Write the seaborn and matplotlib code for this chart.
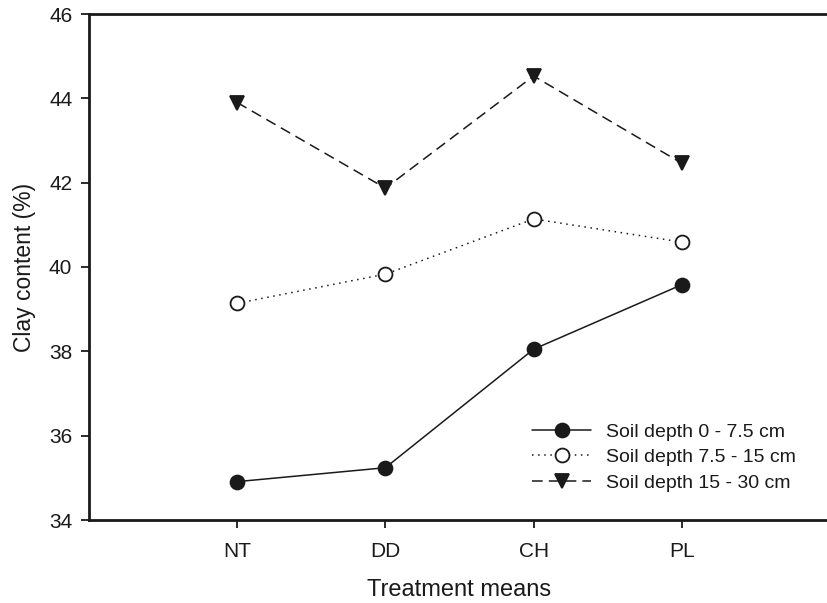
import pandas as pd
import seaborn as sns
import matplotlib.pyplot as plt

# values
treatments = ["NT", "DD", "CH", "PL"]
depth_0_75 = [34.91, 35.24, 38.05, 39.58]
depth_75_15 = [39.14, 39.83, 41.14, 40.59]
depth_15_30 = [43.90, 41.87, 44.53, 42.46]
labels = ["Soil depth 0 - 7.5 cm", "Soil depth 7.5 - 15 cm", "Soil depth 15 - 30 cm"]

sns.set_style("ticks")
plt.rcParams['font.family'] = ['Liberation Sans', 'DejaVu Sans']

ink = "#1a1a1a"
fig = plt.figure(figsize=(8.27, 6.03), dpi=100)
ax = fig.add_axes([89/827, 83/603, 741/827, 506/603])

styles = [
    dict(linestyle="-", marker="o", markerfacecolor=ink),
    dict(linestyle=(0, (1, 3)), marker="o", markerfacecolor="white"),
    dict(linestyle=(0, (7, 4)), marker="v", markerfacecolor=ink),
]
for vals, lab, st in zip([depth_0_75, depth_75_15, depth_15_30], labels, styles):
    df = pd.DataFrame({"Treatment": treatments, "Clay": vals})
    sns.lineplot(data=df, x="Treatment", y="Clay", ax=ax, color=ink, lw=1.1,
                 markersize=10, markeredgecolor=ink, markeredgewidth=1.3,
                 label=lab, sort=False, **st)

ax.set_xlim(-1, 4)
ax.set_ylim(34, 46)
ax.set_yticks([34, 36, 38, 40, 42, 44, 46])
ax.set_xlabel("Treatment means", fontsize=17, labelpad=13, color=ink)
ax.set_ylabel("Clay content (%)", fontsize=16.5, labelpad=9, color=ink)
ax.tick_params(axis="both", direction="out", length=6, width=1.3,
               labelsize=15, colors=ink, pad=6)
ax.tick_params(axis="x", pad=10)
for s in ["left", "bottom", "top"]:
    ax.spines[s].set_linewidth(2)
    ax.spines[s].set_color(ink)
ax.spines["right"].set_visible(False)

leg = ax.legend(loc="lower right", bbox_to_anchor=(0.978, 0.021), frameon=False,
                fontsize=14, handlelength=3.0, labelspacing=0.41, handletextpad=0.8)
for t in leg.get_texts():
    t.set_color(ink)

fig.savefig("out.png", dpi=100)
